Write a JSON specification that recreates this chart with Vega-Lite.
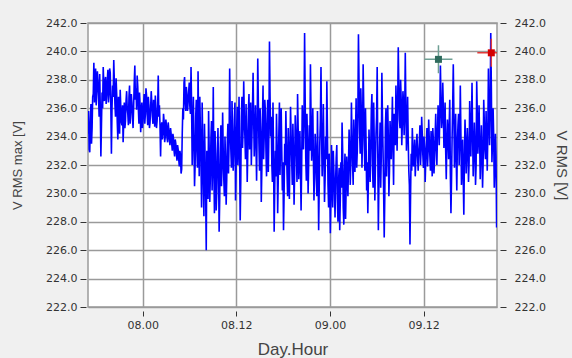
{
"$schema": "https://vega.github.io/schema/vega-lite/v6.json",
"width": 409, "height": 284,
"autosize": {"type": "none"},
"padding": {"left": 88, "top": 23, "right": 75, "bottom": 51},
"background": "#f0f0f0",
"config": {"view": {"fill": "white", "stroke": "#9a9a9a", "strokeWidth": 1.5},
  "axis": {"labelFont": "DejaVu Sans", "labelFontSize": 11, "labelColor": "#333333", "titleFont": "Liberation Sans", "titleFontWeight": "normal", "titleColor": "#444444", "domain": false, "tickColor": "#333333", "gridColor": "#9a9a9a", "gridWidth": 1.5}},
"datasets": {
"volt": [
{"t":17,"v":234.2},{"t":17.15,"v":233.1},{"t":17.3,"v":235.0},{"t":17.45,"v":233.5},{"t":17.6,"v":236.8},{"t":17.75,"v":239.2},{"t":17.9,"v":237.5},{"t":18.05,"v":236.2},{"t":18.2,"v":238.6},{"t":18.35,"v":236.9},
{"t":18.5,"v":238.4},{"t":18.65,"v":232.6},{"t":18.8,"v":237.1},{"t":18.95,"v":238.9},{"t":19.1,"v":236.5},{"t":19.25,"v":238.2},{"t":19.4,"v":236.9},{"t":19.55,"v":238.7},{"t":19.7,"v":237.0},{"t":19.85,"v":238.5},
{"t":20,"v":232.8},{"t":20.15,"v":237.6},{"t":20.3,"v":239.4},{"t":20.45,"v":236.3},{"t":20.6,"v":238.1},{"t":20.75,"v":235.0},{"t":20.9,"v":236.8},{"t":21.05,"v":234.2},{"t":21.2,"v":236.1},{"t":21.35,"v":234.8},
{"t":21.5,"v":233.6},{"t":21.65,"v":236.4},{"t":21.8,"v":235.1},{"t":21.95,"v":237.2},{"t":22.1,"v":235.6},{"t":22.25,"v":236.8},{"t":22.4,"v":234.9},{"t":22.55,"v":237.0},{"t":22.7,"v":235.3},{"t":22.85,"v":236.2},
{"t":23,"v":239.0},{"t":23.15,"v":237.4},{"t":23.3,"v":238.3},{"t":23.45,"v":236.0},{"t":23.6,"v":237.1},{"t":23.75,"v":234.3},{"t":23.9,"v":236.4},{"t":24.05,"v":235.2},{"t":24.2,"v":237.0},{"t":24.35,"v":235.6},
{"t":24.5,"v":236.9},{"t":24.65,"v":234.8},{"t":24.8,"v":236.2},{"t":24.95,"v":235.0},{"t":25.1,"v":237.2},{"t":25.25,"v":235.4},{"t":25.4,"v":236.6},{"t":25.55,"v":234.7},{"t":25.7,"v":236.0},{"t":25.85,"v":235.1},
{"t":26,"v":238.3},{"t":26.15,"v":236.2},{"t":26.3,"v":232.6},{"t":26.45,"v":235.0},{"t":26.6,"v":234.2},{"t":26.75,"v":235.1},{"t":26.9,"v":234.0},{"t":27.05,"v":234.8},{"t":27.2,"v":233.6},{"t":27.35,"v":234.5},
{"t":27.5,"v":233.4},{"t":27.65,"v":234.2},{"t":27.8,"v":233.0},{"t":27.95,"v":233.9},{"t":28.1,"v":232.6},{"t":28.25,"v":233.5},{"t":28.4,"v":232.3},{"t":28.55,"v":233.1},{"t":28.7,"v":231.9},{"t":28.85,"v":232.7},
{"t":29,"v":231.7},{"t":29.15,"v":236.0},{"t":29.3,"v":237.8},{"t":29.45,"v":236.4},{"t":29.6,"v":237.5},{"t":29.75,"v":235.8},{"t":29.9,"v":237.2},{"t":30.05,"v":236.1},{"t":30.2,"v":238.9},{"t":30.35,"v":232.0},
{"t":30.5,"v":236.8},{"t":30.65,"v":230.5},{"t":30.8,"v":235.4},{"t":30.95,"v":233.0},{"t":31.1,"v":238.6},{"t":31.25,"v":231.2},{"t":31.4,"v":234.5},{"t":31.55,"v":229.0},{"t":31.7,"v":233.8},{"t":31.85,"v":228.4},
{"t":32,"v":232.6},{"t":32.15,"v":226.0},{"t":32.3,"v":231.5},{"t":32.45,"v":235.8},{"t":32.6,"v":229.4},{"t":32.75,"v":233.9},{"t":32.9,"v":230.2},{"t":33.05,"v":237.5},{"t":33.2,"v":228.6},{"t":33.35,"v":232.8},
{"t":33.5,"v":230.1},{"t":33.65,"v":234.6},{"t":33.8,"v":227.3},{"t":33.95,"v":233.2},{"t":34.1,"v":230.5},{"t":34.25,"v":235.7},{"t":34.4,"v":231.0},{"t":34.55,"v":234.0},{"t":34.7,"v":229.2},{"t":34.85,"v":233.6},
{"t":35,"v":231.4},{"t":35.15,"v":238.8},{"t":35.3,"v":233.1},{"t":35.45,"v":236.5},{"t":35.6,"v":231.6},{"t":35.75,"v":235.2},{"t":35.9,"v":229.5},{"t":36.05,"v":234.6},{"t":36.2,"v":232.0},{"t":36.35,"v":236.8},
{"t":36.5,"v":228.1},{"t":36.65,"v":235.4},{"t":36.8,"v":233.2},{"t":36.95,"v":237.9},{"t":37.1,"v":234.0},{"t":37.25,"v":236.3},{"t":37.4,"v":230.8},{"t":37.55,"v":235.8},{"t":37.7,"v":233.1},{"t":37.85,"v":236.4},
{"t":38,"v":234.0},{"t":38.15,"v":238.5},{"t":38.3,"v":232.6},{"t":38.45,"v":236.2},{"t":38.6,"v":230.9},{"t":38.75,"v":239.5},{"t":38.9,"v":233.5},{"t":39.05,"v":236.0},{"t":39.2,"v":229.4},{"t":39.35,"v":235.1},
{"t":39.5,"v":232.4},{"t":39.65,"v":236.6},{"t":39.8,"v":233.0},{"t":39.95,"v":234.8},{"t":40.1,"v":231.5},{"t":40.25,"v":240.7},{"t":40.4,"v":234.0},{"t":40.55,"v":232.1},{"t":40.7,"v":236.4},{"t":40.85,"v":227.3},
{"t":41,"v":233.0},{"t":41.15,"v":235.6},{"t":41.3,"v":228.6},{"t":41.45,"v":234.2},{"t":41.6,"v":231.3},{"t":41.75,"v":236.0},{"t":41.9,"v":230.2},{"t":42.05,"v":227.4},{"t":42.2,"v":233.5},{"t":42.35,"v":235.8},
{"t":42.5,"v":231.4},{"t":42.65,"v":234.6},{"t":42.8,"v":229.6},{"t":42.95,"v":236.1},{"t":43.1,"v":232.2},{"t":43.25,"v":234.9},{"t":43.4,"v":229.2},{"t":43.55,"v":235.5},{"t":43.7,"v":232.8},{"t":43.85,"v":237.0},
{"t":44,"v":231.0},{"t":44.15,"v":234.4},{"t":44.3,"v":228.8},{"t":44.45,"v":236.2},{"t":44.6,"v":233.1},{"t":44.75,"v":241.3},{"t":44.9,"v":232.4},{"t":45.05,"v":235.6},{"t":45.2,"v":230.0},{"t":45.35,"v":234.8},
{"t":45.5,"v":239.1},{"t":45.65,"v":232.3},{"t":45.8,"v":236.0},{"t":45.95,"v":229.5},{"t":46.1,"v":234.2},{"t":46.25,"v":231.0},{"t":46.4,"v":235.8},{"t":46.55,"v":227.4},{"t":46.7,"v":233.6},{"t":46.85,"v":238.9},
{"t":47,"v":231.2},{"t":47.15,"v":236.3},{"t":47.3,"v":229.4},{"t":47.45,"v":234.0},{"t":47.6,"v":237.9},{"t":47.75,"v":230.6},{"t":47.9,"v":232.8},{"t":48.05,"v":227.2},{"t":48.2,"v":233.4},{"t":48.35,"v":229.0},
{"t":48.5,"v":231.6},{"t":48.65,"v":228.3},{"t":48.8,"v":232.5},{"t":48.95,"v":229.6},{"t":49.1,"v":230.8},{"t":49.25,"v":227.4},{"t":49.4,"v":232.2},{"t":49.55,"v":235.0},{"t":49.7,"v":229.0},{"t":49.85,"v":231.4},
{"t":50,"v":228.2},{"t":50.15,"v":232.6},{"t":50.3,"v":229.8},{"t":50.45,"v":234.5},{"t":50.6,"v":230.6},{"t":50.75,"v":236.4},{"t":50.9,"v":232.0},{"t":51.05,"v":235.2},{"t":51.2,"v":231.5},{"t":51.35,"v":236.7},
{"t":51.5,"v":233.0},{"t":51.65,"v":241.2},{"t":51.8,"v":234.2},{"t":51.95,"v":237.4},{"t":52.1,"v":231.8},{"t":52.25,"v":239.1},{"t":52.4,"v":233.4},{"t":52.55,"v":236.0},{"t":52.7,"v":230.2},{"t":52.85,"v":228.6},
{"t":53,"v":234.5},{"t":53.15,"v":230.8},{"t":53.3,"v":235.9},{"t":53.45,"v":232.0},{"t":53.6,"v":236.4},{"t":53.75,"v":229.5},{"t":53.9,"v":234.2},{"t":54.05,"v":238.9},{"t":54.2,"v":227.4},{"t":54.35,"v":233.2},
{"t":54.5,"v":230.4},{"t":54.65,"v":238.5},{"t":54.8,"v":233.0},{"t":54.95,"v":226.9},{"t":55.1,"v":234.6},{"t":55.25,"v":231.2},{"t":55.4,"v":236.2},{"t":55.55,"v":229.8},{"t":55.7,"v":235.1},{"t":55.85,"v":232.4},
{"t":56,"v":236.8},{"t":56.15,"v":230.6},{"t":56.3,"v":234.4},{"t":56.45,"v":237.6},{"t":56.6,"v":233.0},{"t":56.75,"v":240.3},{"t":56.9,"v":235.2},{"t":57.05,"v":238.0},{"t":57.2,"v":233.4},{"t":57.35,"v":237.2},
{"t":57.5,"v":234.1},{"t":57.65,"v":239.9},{"t":57.8,"v":233.0},{"t":57.95,"v":236.8},{"t":58.1,"v":231.6},{"t":58.25,"v":226.4},{"t":58.4,"v":232.8},{"t":58.55,"v":234.6},{"t":58.7,"v":231.9},{"t":58.85,"v":233.8},
{"t":59,"v":232.4},{"t":59.15,"v":234.2},{"t":59.3,"v":231.6},{"t":59.45,"v":233.6},{"t":59.6,"v":232.0},{"t":59.75,"v":235.4},{"t":59.9,"v":232.7},{"t":60.05,"v":234.0},{"t":60.2,"v":230.8},{"t":60.35,"v":233.4},
{"t":60.5,"v":231.9},{"t":60.65,"v":235.2},{"t":60.8,"v":232.6},{"t":60.95,"v":234.4},{"t":61.1,"v":231.2},{"t":61.25,"v":233.7},{"t":61.4,"v":232.4},{"t":61.55,"v":235.6},{"t":61.7,"v":232.0},{"t":61.85,"v":236.2},
{"t":62,"v":233.4},{"t":62.15,"v":239.0},{"t":62.3,"v":234.6},{"t":62.45,"v":237.8},{"t":62.6,"v":233.2},{"t":62.75,"v":236.4},{"t":62.9,"v":231.0},{"t":63.05,"v":235.2},{"t":63.2,"v":232.4},{"t":63.35,"v":236.6},
{"t":63.5,"v":228.6},{"t":63.65,"v":234.0},{"t":63.8,"v":239.1},{"t":63.95,"v":231.8},{"t":64.1,"v":235.6},{"t":64.25,"v":230.2},{"t":64.4,"v":234.8},{"t":64.55,"v":232.0},{"t":64.7,"v":237.6},{"t":64.85,"v":230.6},
{"t":65,"v":233.8},{"t":65.15,"v":228.5},{"t":65.3,"v":235.2},{"t":65.45,"v":231.4},{"t":65.6,"v":234.6},{"t":65.75,"v":230.8},{"t":65.9,"v":236.5},{"t":66.05,"v":232.6},{"t":66.2,"v":237.8},{"t":66.35,"v":231.2},
{"t":66.5,"v":235.0},{"t":66.65,"v":230.6},{"t":66.8,"v":237.9},{"t":66.95,"v":232.8},{"t":67.1,"v":236.2},{"t":67.25,"v":231.0},{"t":67.4,"v":234.8},{"t":67.55,"v":230.4},{"t":67.7,"v":236.6},{"t":67.85,"v":233.0},
{"t":68,"v":235.8},{"t":68.15,"v":231.6},{"t":68.3,"v":238.8},{"t":68.45,"v":233.4},{"t":68.6,"v":241.3},{"t":68.75,"v":232.2},{"t":68.9,"v":236.0},{"t":69.05,"v":230.4},{"t":69.2,"v":234.2},{"t":69.35,"v":227.6},
{"t":17.075,"v":235.8},{"t":17.225,"v":232.9},{"t":17.375,"v":236.3},{"t":17.525,"v":234.6},{"t":17.675,"v":237.0},{"t":17.825,"v":236.4},{"t":17.975,"v":238.8},{"t":18.125,"v":237.2},{"t":18.275,"v":237.9},{"t":18.425,"v":235.4},
{"t":18.575,"v":236.0},{"t":18.725,"v":234.8},{"t":18.875,"v":236.0},{"t":19.025,"v":237.6},{"t":19.175,"v":237.9},{"t":19.325,"v":236.3},{"t":19.475,"v":238.0},{"t":19.625,"v":236.4},{"t":19.775,"v":238.8},{"t":19.925,"v":236.2},
{"t":20.075,"v":236.0},{"t":20.225,"v":236.8},{"t":20.375,"v":237.9},{"t":20.525,"v":235.4},{"t":20.675,"v":237.0},{"t":20.825,"v":233.8},{"t":20.975,"v":235.9},{"t":21.125,"v":237.3},{"t":21.275,"v":235.0},{"t":21.425,"v":236.2},
{"t":21.575,"v":235.0},{"t":21.725,"v":234.6},{"t":21.875,"v":236.5},{"t":22.025,"v":236.0},{"t":22.175,"v":234.8},{"t":22.325,"v":237.6},{"t":22.475,"v":235.8},{"t":22.625,"v":236.4},{"t":22.775,"v":234.6},{"t":22.925,"v":237.8},
{"t":23.075,"v":236.6},{"t":23.225,"v":235.9},{"t":23.375,"v":237.5},{"t":23.525,"v":234.9},{"t":23.675,"v":236.2},{"t":23.825,"v":235.6},{"t":23.975,"v":234.6},{"t":24.125,"v":236.3},{"t":24.275,"v":234.9},{"t":24.425,"v":237.4},
{"t":24.575,"v":235.6},{"t":24.725,"v":236.8},{"t":24.875,"v":234.6},{"t":25.025,"v":236.0},{"t":25.175,"v":236.4},{"t":25.325,"v":234.9},{"t":25.475,"v":235.8},{"t":25.625,"v":236.9},{"t":25.775,"v":234.6},{"t":25.925,"v":236.0},
{"t":26.075,"v":235.4},{"t":26.225,"v":234.8},{"t":26.375,"v":234.6},{"t":26.525,"v":233.8},{"t":26.675,"v":235.6},{"t":26.825,"v":233.6},{"t":26.975,"v":235.2},{"t":27.125,"v":233.9},{"t":27.275,"v":235.0},{"t":27.425,"v":233.8},
{"t":27.575,"v":234.6},{"t":27.725,"v":233.5},{"t":27.875,"v":234.2},{"t":28.025,"v":233.0},{"t":28.175,"v":233.8},{"t":28.325,"v":232.8},{"t":28.475,"v":233.4},{"t":28.625,"v":232.4},{"t":28.775,"v":233.0},{"t":28.925,"v":231.4},
{"t":29.075,"v":234.2},{"t":29.225,"v":235.2},{"t":29.375,"v":238.2},{"t":29.525,"v":235.8},{"t":29.675,"v":236.9},{"t":29.825,"v":236.4},{"t":29.975,"v":237.8},{"t":30.125,"v":235.6},{"t":30.275,"v":236.0},{"t":30.425,"v":234.4},
{"t":30.575,"v":233.6},{"t":30.725,"v":232.0},{"t":30.875,"v":236.6},{"t":31.025,"v":231.8},{"t":31.175,"v":235.0},{"t":31.325,"v":236.8},{"t":31.475,"v":232.2},{"t":31.625,"v":236.4},{"t":31.775,"v":230.6},{"t":31.925,"v":234.9},
{"t":32.075,"v":229.8},{"t":32.225,"v":233.0},{"t":32.375,"v":229.6},{"t":32.525,"v":233.2},{"t":32.675,"v":231.2},{"t":32.825,"v":235.1},{"t":32.975,"v":232.4},{"t":33.125,"v":231.6},{"t":33.275,"v":234.4},{"t":33.425,"v":228.8},
{"t":33.575,"v":232.5},{"t":33.725,"v":231.8},{"t":33.875,"v":229.6},{"t":34.025,"v":234.8},{"t":34.175,"v":231.9},{"t":34.325,"v":233.0},{"t":34.475,"v":229.8},{"t":34.625,"v":232.4},{"t":34.775,"v":231.0},{"t":34.925,"v":234.9},
{"t":35.075,"v":233.6},{"t":35.225,"v":235.0},{"t":35.375,"v":231.8},{"t":35.525,"v":234.0},{"t":35.675,"v":233.0},{"t":35.825,"v":236.4},{"t":35.975,"v":231.8},{"t":36.125,"v":236.1},{"t":36.275,"v":233.5},{"t":36.425,"v":232.6},
{"t":36.575,"v":231.0},{"t":36.725,"v":236.8},{"t":36.875,"v":234.6},{"t":37.025,"v":235.5},{"t":37.175,"v":232.4},{"t":37.325,"v":233.8},{"t":37.475,"v":233.0},{"t":37.625,"v":237.0},{"t":37.775,"v":234.5},{"t":37.925,"v":232.0},
{"t":38.075,"v":236.0},{"t":38.225,"v":235.3},{"t":38.375,"v":234.2},{"t":38.525,"v":233.5},{"t":38.675,"v":234.8},{"t":38.825,"v":236.4},{"t":38.975,"v":231.6},{"t":39.125,"v":234.4},{"t":39.275,"v":231.8},{"t":39.425,"v":237.6},
{"t":39.575,"v":234.0},{"t":39.725,"v":235.8},{"t":39.875,"v":231.2},{"t":40.025,"v":236.6},{"t":40.175,"v":234.3},{"t":40.325,"v":236.8},{"t":40.475,"v":235.4},{"t":40.625,"v":230.8},{"t":40.775,"v":232.5},{"t":40.925,"v":230.4},
{"t":41.075,"v":231.2},{"t":41.225,"v":233.4},{"t":41.375,"v":231.0},{"t":41.525,"v":236.4},{"t":41.675,"v":233.6},{"t":41.825,"v":233.0},{"t":41.975,"v":232.2},{"t":42.125,"v":230.0},{"t":42.275,"v":232.0},{"t":42.425,"v":233.4},
{"t":42.575,"v":229.8},{"t":42.725,"v":232.4},{"t":42.875,"v":233.0},{"t":43.025,"v":234.0},{"t":43.175,"v":230.6},{"t":43.325,"v":232.8},{"t":43.475,"v":231.4},{"t":43.625,"v":234.2},{"t":43.775,"v":230.8},{"t":43.925,"v":234.6},
{"t":44.075,"v":232.4},{"t":44.225,"v":231.6},{"t":44.375,"v":232.0},{"t":44.525,"v":234.8},{"t":44.675,"v":235.4},{"t":44.825,"v":236.6},{"t":44.975,"v":230.9},{"t":45.125,"v":233.6},{"t":45.275,"v":232.2},{"t":45.425,"v":233.0},
{"t":45.575,"v":235.4},{"t":45.725,"v":233.8},{"t":45.875,"v":232.6},{"t":46.025,"v":231.4},{"t":46.175,"v":233.2},{"t":46.325,"v":229.8},{"t":46.475,"v":232.4},{"t":46.625,"v":230.5},{"t":46.775,"v":235.2},{"t":46.925,"v":234.0},
{"t":47.075,"v":233.0},{"t":47.225,"v":232.8},{"t":47.375,"v":231.0},{"t":47.525,"v":232.4},{"t":47.675,"v":234.4},{"t":47.825,"v":229.0},{"t":47.975,"v":230.8},{"t":48.125,"v":229.6},{"t":48.275,"v":231.2},{"t":48.425,"v":233.0},
{"t":48.575,"v":230.2},{"t":48.725,"v":230.9},{"t":48.875,"v":233.4},{"t":49.025,"v":228.0},{"t":49.175,"v":231.8},{"t":49.325,"v":229.6},{"t":49.475,"v":230.4},{"t":49.625,"v":233.0},{"t":49.775,"v":227.8},{"t":49.925,"v":232.8},
{"t":50.075,"v":230.4},{"t":50.225,"v":231.2},{"t":50.375,"v":232.0},{"t":50.525,"v":233.0},{"t":50.675,"v":232.4},{"t":50.825,"v":234.0},{"t":50.975,"v":230.6},{"t":51.125,"v":233.4},{"t":51.275,"v":234.2},{"t":51.425,"v":231.8},
{"t":51.575,"v":235.6},{"t":51.725,"v":237.8},{"t":51.875,"v":232.8},{"t":52.025,"v":235.6},{"t":52.175,"v":234.0},{"t":52.325,"v":236.2},{"t":52.475,"v":231.6},{"t":52.625,"v":233.6},{"t":52.775,"v":232.2},{"t":52.925,"v":231.0},
{"t":53.075,"v":232.8},{"t":53.225,"v":233.2},{"t":53.375,"v":237.0},{"t":53.525,"v":230.4},{"t":53.675,"v":233.6},{"t":53.825,"v":232.0},{"t":53.975,"v":235.4},{"t":54.125,"v":233.0},{"t":54.275,"v":231.0},{"t":54.425,"v":235.0},
{"t":54.575,"v":232.6},{"t":54.725,"v":235.4},{"t":54.875,"v":230.2},{"t":55.025,"v":229.8},{"t":55.175,"v":236.0},{"t":55.325,"v":233.4},{"t":55.475,"v":234.0},{"t":55.625,"v":231.6},{"t":55.775,"v":233.6},{"t":55.925,"v":234.6},
{"t":56.075,"v":233.2},{"t":56.225,"v":235.6},{"t":56.375,"v":233.4},{"t":56.525,"v":235.8},{"t":56.675,"v":236.2},{"t":56.825,"v":237.6},{"t":56.975,"v":234.6},{"t":57.125,"v":236.6},{"t":57.275,"v":235.0},{"t":57.425,"v":236.4},
{"t":57.575,"v":235.6},{"t":57.725,"v":236.2},{"t":57.875,"v":234.4},{"t":58.025,"v":233.8},{"t":58.175,"v":230.6},{"t":58.325,"v":229.8},{"t":58.475,"v":231.6},{"t":58.625,"v":233.2},{"t":58.775,"v":232.6},{"t":58.925,"v":231.2},
{"t":59.075,"v":233.4},{"t":59.225,"v":232.6},{"t":59.375,"v":232.8},{"t":59.525,"v":234.8},{"t":59.675,"v":233.0},{"t":59.825,"v":234.2},{"t":59.975,"v":231.8},{"t":60.125,"v":233.2},{"t":60.275,"v":232.4},{"t":60.425,"v":234.6},
{"t":60.575,"v":233.0},{"t":60.725,"v":233.8},{"t":60.875,"v":231.6},{"t":61.025,"v":232.8},{"t":61.175,"v":234.6},{"t":61.325,"v":231.4},{"t":61.475,"v":234.0},{"t":61.625,"v":233.2},{"t":61.775,"v":234.2},{"t":61.925,"v":235.0},
{"t":62.075,"v":235.8},{"t":62.225,"v":236.4},{"t":62.375,"v":235.2},{"t":62.525,"v":236.0},{"t":62.675,"v":234.4},{"t":62.825,"v":233.0},{"t":62.975,"v":233.6},{"t":63.125,"v":234.0},{"t":63.275,"v":234.8},{"t":63.425,"v":231.4},
{"t":63.575,"v":231.0},{"t":63.725,"v":236.2},{"t":63.875,"v":235.6},{"t":64.025,"v":233.2},{"t":64.175,"v":232.4},{"t":64.325,"v":233.6},{"t":64.475,"v":235.6},{"t":64.625,"v":233.8},{"t":64.775,"v":234.2},{"t":64.925,"v":232.4},
{"t":65.075,"v":231.0},{"t":65.225,"v":232.4},{"t":65.375,"v":233.8},{"t":65.525,"v":232.8},{"t":65.675,"v":233.2},{"t":65.825,"v":232.2},{"t":65.975,"v":234.6},{"t":66.125,"v":235.0},{"t":66.275,"v":234.2},{"t":66.425,"v":232.8},
{"t":66.575,"v":233.4},{"t":66.725,"v":232.0},{"t":66.875,"v":235.6},{"t":67.025,"v":234.0},{"t":67.175,"v":233.8},{"t":67.325,"v":232.6},{"t":67.475,"v":233.0},{"t":67.625,"v":232.2},{"t":67.775,"v":235.0},{"t":67.925,"v":232.4},
{"t":68.075,"v":233.6},{"t":68.225,"v":234.2},{"t":68.375,"v":236.0},{"t":68.525,"v":235.8},{"t":68.675,"v":237.6},{"t":68.825,"v":233.6},{"t":68.975,"v":234.0},{"t":69.125,"v":231.8},{"t":69.275,"v":232.6}
],
"cursors": [
{"t":61.9,"v":239.44,"cursor":"A"},
{"t":68.67,"v":239.9,"cursor":"B"}
]
},
"resolve": {"axis": {"y": "independent"}},
"layer": [
{
"data": {"name": "volt"},
"mark": {"type": "line", "color": "#0000ff", "strokeWidth": 1.6, "clip": true},
"encoding": {
"x": {"field": "t", "type": "quantitative", "scale": {"domain": [17, 69.4], "nice": false, "zero": false},
  "axis": {"values": [24, 36, 48, 60], "labelExpr": "'0' + (7 + floor(datum.value / 24)) + '.' + (datum.value % 24 < 10 ? '0' + (datum.value % 24) : (datum.value % 24))", "offset": 4, "tickSize": 5, "labelPadding": 3, "title": "Day.Hour", "titleFontSize": 17, "titlePadding": 11, "grid": true}},
"y": {"field": "v", "type": "quantitative", "scale": {"domain": [222, 242], "nice": false, "zero": false},
  "axis": {"orient": "left", "values": [222, 224, 226, 228, 230, 232, 234, 236, 238, 240, 242], "format": ".1f", "offset": 2, "tickSize": 6, "labelPadding": 3, "title": "V RMS max [V]", "titleFontSize": 13, "titlePadding": 21, "grid": true}}
}
},
{
"data": {"name": "cursors"},
"encoding": {
"x": {"field": "t", "type": "quantitative"},
"y": {"field": "v", "type": "quantitative",
  "axis": {"orient": "right", "values": [222, 224, 226, 228, 230, 232, 234, 236, 238, 240, 242], "format": ".1f", "offset": 3, "tickSize": 6, "labelPadding": 8, "title": "V RMS [V]", "titleFontSize": 15, "titlePadding": 8, "grid": false}}
},
"layer": [
{"mark": {"type": "point", "shape": "M-1,0L1,0M0,-1L0,1", "size": 784, "filled": false, "strokeWidth": 1.5, "opacity": 1, "clip": true},
 "encoding": {"stroke": {"field": "cursor", "type": "nominal", "scale": {"domain": ["A", "B"], "range": ["#6f9f94", "#e03a3a"]}, "legend": null}}},
{"mark": {"type": "point", "shape": "square", "size": 49, "filled": true, "opacity": 1, "clip": true},
 "encoding": {"fill": {"field": "cursor", "type": "nominal", "scale": {"domain": ["A", "B"], "range": ["#2f6b5d", "#d40000"]}, "legend": null}}}
]
}
]
}
